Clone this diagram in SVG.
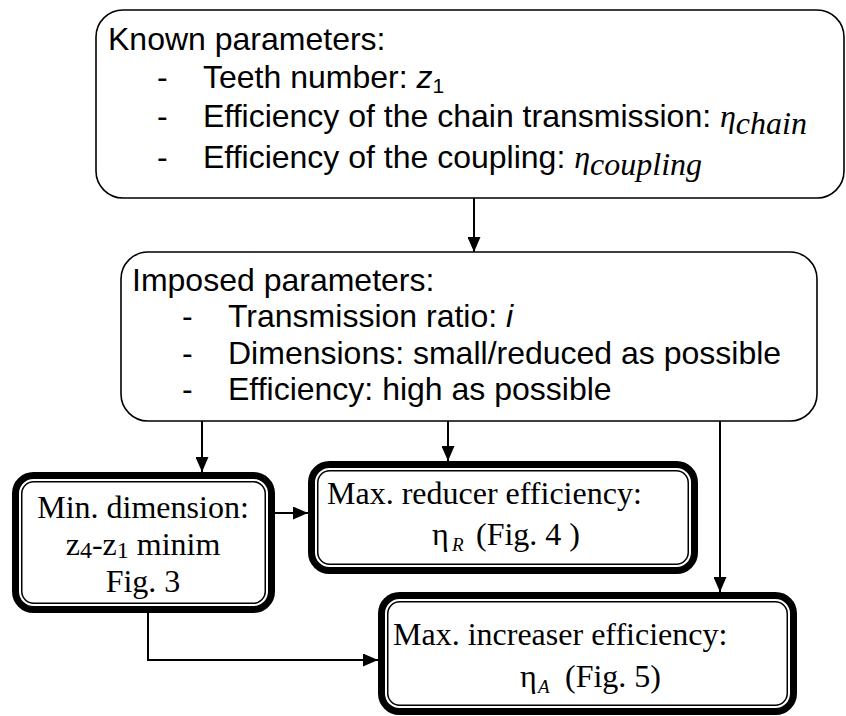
<svg xmlns="http://www.w3.org/2000/svg" width="846" height="716" viewBox="0 0 846 716">
<style>
.bg{fill:#fff}
.soft{fill:#fff;stroke:#000;stroke-width:1.6}
.thick{fill:#fff;stroke:#000;stroke-width:7}
.thin{fill:none;stroke:#000;stroke-width:1.5}
.sans{font-family:"Liberation Sans",Arial,sans-serif;font-size:32px;fill:#000}
.serif{font-family:"Liberation Serif","Times New Roman",serif;font-size:32px;fill:#000}
.it{font-style:italic}
.conn{fill:none;stroke:#000;stroke-width:2}
</style>
<defs>
<marker id="ah" viewBox="0 0 15 13" refX="15" refY="6.5" markerWidth="15" markerHeight="13" markerUnits="userSpaceOnUse" orient="auto">
<path d="M0,0 L15,6.5 L0,13 z" fill="#000"/>
</marker>
</defs>
<rect class="bg" x="0" y="0" width="846" height="716"/>

<g id="known">
<rect class="soft" x="96" y="10" width="748" height="188" rx="27"/>
<text class="sans" x="108" y="50">Known parameters:</text>
<text class="sans" x="157" y="88">-</text>
<text class="sans" x="203" y="88">Teeth number: <tspan class="it">z</tspan><tspan font-size="21" dy="5">1</tspan></text>
<text class="sans" x="157" y="127">-</text>
<text class="sans" x="203" y="127">Efficiency of the chain transmission: <tspan class="serif it" font-size="32">η</tspan><tspan class="serif it" font-size="19" dy="7">chain</tspan></text>
<text class="sans" x="157" y="168">-</text>
<text class="sans" x="203" y="168">Efficiency of the coupling: <tspan class="serif it" font-size="32">η</tspan><tspan class="serif it" font-size="19" dy="7">coupling</tspan></text>
</g>

<g id="imposed">
<rect class="soft" x="121" y="252" width="696" height="169" rx="27"/>
<text class="sans" x="132" y="291">Imposed parameters:</text>
<text class="sans" x="182" y="327">-</text>
<text class="sans" x="228" y="327">Transmission ratio: <tspan class="it">i</tspan></text>
<text class="sans" x="182" y="364">-</text>
<text class="sans" x="228" y="364">Dimensions: small/reduced as possible</text>
<text class="sans" x="182" y="400">-</text>
<text class="sans" x="228" y="400">Efficiency: high as possible</text>
</g>

<g id="mindim">
<rect class="thick" x="15.5" y="475.5" width="256" height="134" rx="18"/>
<rect class="thin" x="21.75" y="481.75" width="243.5" height="121.5" rx="12"/>
<text class="serif" x="143" y="518" text-anchor="middle">Min. dimension:</text>
<text class="serif" x="143" y="555" text-anchor="middle">z<tspan font-size="24" dy="3">4</tspan><tspan dy="-3">-z</tspan><tspan font-size="24" dy="3">1</tspan><tspan dy="-3"> minim</tspan></text>
<text class="serif" x="143" y="592" text-anchor="middle">Fig. 3</text>
</g>

<g id="reducer">
<rect class="thick" x="311.5" y="464.5" width="383" height="106" rx="18"/>
<rect class="thin" x="317.75" y="470.75" width="370.5" height="93.5" rx="12"/>
<text class="serif" x="327" y="504">Max. reducer efficiency:</text>
<text class="serif" x="432" y="545">η<tspan class="it" font-size="19" x="452" dy="6">R</tspan><tspan x="476" dy="-6">(Fig. 4 )</tspan></text>
</g>

<g id="increaser">
<rect class="thick" x="381.5" y="595.5" width="412" height="116" rx="18"/>
<rect class="thin" x="387.75" y="601.75" width="399.5" height="103.5" rx="12"/>
<text class="serif" x="393" y="645">Max. increaser efficiency:</text>
<text class="serif" x="520" y="687">η<tspan class="it" font-size="19" x="538" dy="6">A</tspan><tspan x="565" dy="-6">(Fig. 5)</tspan></text>
</g>

<g id="connectors">
<path class="conn" d="M474,198 V252" marker-end="url(#ah)"/>
<path class="conn" d="M202,421 V472" marker-end="url(#ah)"/>
<path class="conn" d="M448,421 V461" marker-end="url(#ah)"/>
<path class="conn" d="M720,421 V592" marker-end="url(#ah)"/>
<path class="conn" d="M275,513 H308" marker-end="url(#ah)"/>
<path class="conn" d="M148,613 V660 H378" marker-end="url(#ah)"/>
</g>
</svg>
